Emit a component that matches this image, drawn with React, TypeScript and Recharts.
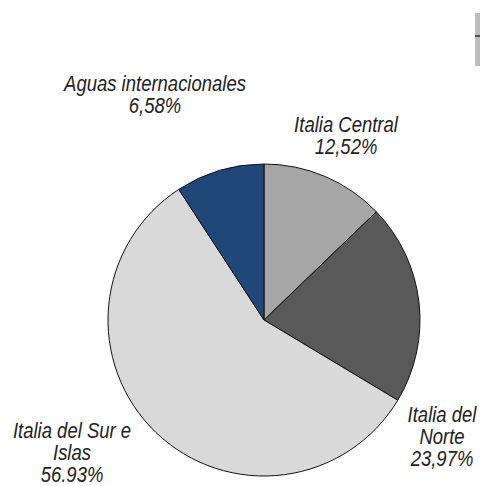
import { PieChart, Pie, Cell } from 'recharts';

// slice order, clockwise from 12 o'clock
const regions = ['Italia Central', 'Italia del Norte', 'Italia del Sur e Islas', 'Aguas internacionales'];
const shares = [12.8, 20.8, 57.2, 9.2];
const labelLines = [
  ['Italia Central', '12,52%'],
  ['Italia del', 'Norte', '23,97%'],
  ['Italia del Sur e', 'Islas', '56.93%'],
  ['Aguas internacionales', '6,58%'],
];
const colors = ['#a6a6a6', '#595959', '#d9d9d9', '#1f4778'];

// label anchor (first baseline) relative to pie centre
const labelOffsets = [
  { dx: 82, dy: -188 },
  { dx: 178, dy: 102 },
  { dx: -192, dy: 118 },
  { dx: -109, dy: -229 },
];

const data = regions.map((name, i) => ({ name, value: shares[i] }));

const FONT = '"Liberation Sans", Arial, sans-serif';

const renderLabel = (props: any) => {
  const { cx, cy, index } = props;
  const off = labelOffsets[index];
  const lines = labelLines[index];
  // narrow the face horizontally to match the condensed original font
  return (
    <g transform={`translate(${cx + off.dx}, ${cy + off.dy}) scale(0.86, 1)`}>
      <text
        x={0}
        y={0}
        textAnchor="middle"
        fill="#222"
        fontFamily={FONT}
        fontSize={21.5}
        fontStyle="italic"
      >
        {lines.map((t, i) => (
          <tspan key={i} x={0} dy={i === 0 ? 0 : 22}>
            {t}
          </tspan>
        ))}
      </text>
    </g>
  );
};

export default function App() {
  return (
    <div style={{ position: 'absolute', left: 0, top: 0, width: 480, height: 486, background: '#fff' }}>
      <PieChart width={480} height={486} margin={{ top: 0, right: 0, bottom: 0, left: 0 }}>
        <Pie
          data={data}
          dataKey="value"
          nameKey="name"
          cx={264}
          cy={320}
          outerRadius={156}
          startAngle={90}
          endAngle={-270}
          stroke="#111"
          strokeWidth={1}
          labelLine={false}
          label={renderLabel}
          isAnimationActive={false}
        >
          {data.map((d, i) => (
            <Cell key={d.name} fill={colors[i]} />
          ))}
        </Pie>
      </PieChart>
      {/* clipped legend box at the right edge */}
      <div style={{ position: 'absolute', left: 475, top: 13, width: 5, height: 53, background: '#bcbcbc' }}>
        <div style={{ position: 'absolute', left: 0, top: 22, width: 5, height: 2, background: '#555' }} />
      </div>
    </div>
  );
}
